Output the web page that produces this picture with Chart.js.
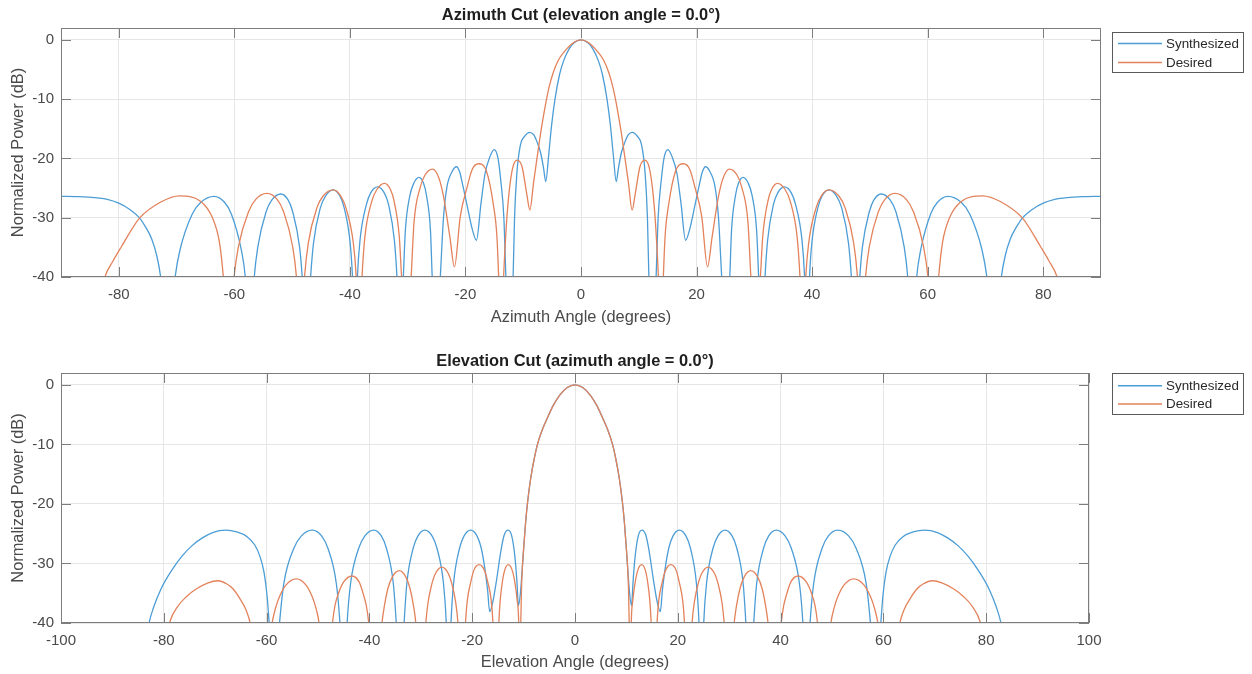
<!DOCTYPE html>
<html>
<head>
<meta charset="utf-8">
<title>Azimuth / Elevation Cuts</title>
<script src="https://cdn.jsdelivr.net/npm/chart.js@4.4.1/dist/chart.umd.min.js"></script>
<style>
  html, body { margin: 0; padding: 0; background: #fff; }
  .panel { position: absolute; left: 0; width: 1252px; height: 337px; }
  #azPanel { top: 0; }
  #elPanel { top: 337px; }
</style>
</head>
<body>
<div class="panel" id="azPanel"><canvas id="azChart" width="1252" height="337"></canvas></div>
<div class="panel" id="elPanel"><canvas id="elChart" width="1252" height="337"></canvas></div>
<script>
// Pattern cuts, [angle deg, power dB]. Points at -52 sit in the nulls below the axis.
const azSynthesized = [
  [-90,-26.4],[-87,-26.45],[-84.2,-26.6],[-82,-26.9],[-80.1,-27.5],[-78.1,-28.6],[-76.35,-30.1],[-75.4,-31.5],[-74.3,-33.6],[-73.4,-36.5],[-72.75,-40],[-71.5,-52],
  [-70.25,-40],[-69.4,-35.4],[-67.3,-29.4],[-65.8,-27.4],[-63.5,-26.4],[-61.7,-27.4],[-60.5,-29.4],[-58.8,-35.4],[-58.1,-40],[-57.3,-52],
  [-56.55,-40],[-55.95,-35],[-54.5,-29],[-53.5,-27],[-51.95,-26],[-50.7,-27],[-49.9,-29],[-48.7,-35],[-48.25,-40],[-47.5,-52],
  [-46.8,-40],[-46.3,-34.3],[-45.1,-28.3],[-44.2,-26.3],[-42.9,-25.3],[-41.75,-26.3],[-41,-28.3],[-39.95,-34.3],[-39.55,-40],[-39.1,-52],
  [-38.7,-40],[-38.25,-33.8],[-37.15,-27.8],[-36.4,-25.8],[-35.2,-24.8],[-34.05,-25.8],[-33.3,-27.8],[-32.3,-33.8],[-31.85,-40],[-31.3,-52],
  [-30.75,-40],[-30.4,-32.2],[-29.6,-26.2],[-28.95,-24.2],[-28.05,-23.2],[-27.25,-24.2],[-26.75,-26.2],[-26.05,-32.2],[-25.75,-40],[-25.05,-52],
  [-24.35,-40],[-23.8,-30],[-23.2,-24.8],[-22.3,-22.2],[-21.55,-21.4],[-21,-22.3],[-20.4,-24.8],[-19.7,-28],[-18.8,-32],[-18.1,-33.8],
  [-17.3,-27.5],[-16.6,-22.5],[-15.8,-19.8],[-15.05,-18.5],[-14.4,-19.8],[-13.9,-23.6],[-13.35,-30],[-13,-40],[-12.4,-52],
  [-11.75,-40],[-11.5,-30],[-11.1,-22.5],[-10.5,-17.8],[-9.7,-16.2],[-8.9,-15.6],[-8.2,-16],[-7.5,-17.5],[-7,-19],[-6.5,-21.5],[-6.1,-23.9],
  [-5.6,-19.5],[-5.1,-14.5],[-4.5,-10],[-3.7,-5.8],[-3,-3.5],[-2.1,-1.6],[-1.2,-0.5],[0,0],
  [1.2,-0.5],[2.1,-1.6],[3,-3.5],[3.7,-5.8],[4.5,-10],[5.1,-14.5],[5.6,-19.5],[6.1,-23.9],
  [6.5,-21.5],[7,-19],[7.5,-17.5],[8.2,-16],[8.9,-15.6],[9.7,-16.2],[10.5,-17.8],[11.1,-22.5],[11.5,-30],[11.75,-40],[12.4,-52],
  [13,-40],[13.35,-30],[13.9,-23.6],[14.4,-19.8],[15.05,-18.5],[15.8,-19.8],[16.6,-22.5],[17.3,-27.5],[18.1,-33.8],
  [18.8,-32],[19.7,-28],[20.4,-24.8],[21,-22.3],[21.55,-21.4],[22.3,-22.2],[23.2,-24.8],[23.8,-30],[24.35,-40],[25.05,-52],
  [25.75,-40],[26.05,-32.2],[26.75,-26.2],[27.25,-24.2],[28.05,-23.2],[28.95,-24.2],[29.6,-26.2],[30.4,-32.2],[30.75,-40],[31.3,-52],
  [31.85,-40],[32.3,-33.8],[33.3,-27.8],[34.05,-25.8],[35.2,-24.8],[36.4,-25.8],[37.15,-27.8],[38.25,-33.8],[38.7,-40],[39.1,-52],
  [39.55,-40],[39.95,-34.3],[41,-28.3],[41.75,-26.3],[42.9,-25.3],[44.2,-26.3],[45.1,-28.3],[46.3,-34.3],[46.8,-40],[47.5,-52],
  [48.25,-40],[48.7,-35],[49.9,-29],[50.7,-27],[51.95,-26],[53.5,-27],[54.5,-29],[55.95,-35],[56.55,-40],[57.3,-52],
  [58.1,-40],[58.8,-35.4],[60.5,-29.4],[61.7,-27.4],[63.5,-26.4],[65.8,-27.4],[67.3,-29.4],[69.4,-35.4],[70.25,-40],[71.5,-52],
  [72.75,-40],[73.4,-36.5],[74.3,-33.6],[75.4,-31.5],[76.35,-30.1],[78.1,-28.6],[80.1,-27.5],[82,-26.9],[84.2,-26.6],[87,-26.45],[90,-26.4]
];

const azDesired = [
  [-84,-47],[-82.4,-40],[-81,-37.3],[-79.55,-34.9],[-76.45,-30.1],[-72.65,-27.3],[-69.5,-26.3],[-65.75,-27.3],[-63.75,-30.1],[-62.55,-34.3],[-61.9,-40],[-61,-52],
  [-60.05,-40],[-59.3,-34.9],[-57.5,-28.9],[-56.3,-26.9],[-54.35,-25.9],[-52.6,-26.9],[-51.5,-28.9],[-49.9,-34.9],[-49.25,-40],[-48.55,-52],
  [-47.85,-40],[-47.2,-34.3],[-45.7,-28.3],[-44.6,-26.3],[-42.9,-25.3],[-41.6,-26.3],[-40.7,-28.3],[-39.4,-34.3],[-38.9,-40],[-38.4,-52],
  [-37.9,-40],[-37.4,-33.2],[-36.2,-27.2],[-35.3,-25.2],[-34,-24.2],[-33,-25.2],[-32.35,-27.2],[-31.45,-33.2],[-31.05,-40],[-30.2,-52],
  [-29.4,-40],[-28.9,-30.8],[-27.8,-24.8],[-27,-22.8],[-25.7,-21.8],[-24.6,-23.3],[-23.8,-26.4],[-22.7,-33.2],[-21.9,-38.3],
  [-20.9,-29.8],[-19.7,-24.8],[-18.85,-21.9],[-17.75,-20.9],[-16.35,-22.2],[-15.2,-27.6],[-14.55,-33.2],[-14.25,-40],[-13.8,-52],
  [-13.4,-40],[-12.9,-31],[-12.4,-25.3],[-11.8,-21.5],[-11.05,-20.3],[-10.2,-21.4],[-9.4,-25.9],[-8.85,-28.7],
  [-8.2,-24],[-7.5,-19.2],[-6.9,-15.2],[-6.2,-11.2],[-5.5,-7.9],[-4.8,-5.5],[-3.9,-3.4],[-2.8,-1.9],[-1.5,-0.6],[0,0],
  [1.5,-0.6],[2.8,-1.9],[3.9,-3.4],[4.8,-5.5],[5.5,-7.9],[6.2,-11.2],[6.9,-15.2],[7.5,-19.2],[8.2,-24],[8.85,-28.7],
  [9.4,-25.9],[10.2,-21.4],[11.05,-20.3],[11.8,-21.5],[12.4,-25.3],[12.9,-31],[13.4,-40],[13.8,-52],
  [14.25,-40],[14.55,-33.2],[15.2,-27.6],[16.35,-22.2],[17.75,-20.9],[18.85,-21.9],[19.7,-24.8],[20.9,-29.8],[21.9,-38.3],
  [22.7,-33.2],[23.8,-26.4],[24.6,-23.3],[25.7,-21.8],[27,-22.8],[27.8,-24.8],[28.9,-30.8],[29.4,-40],[30.2,-52],
  [31.05,-40],[31.45,-33.2],[32.35,-27.2],[33,-25.2],[34,-24.2],[35.3,-25.2],[36.2,-27.2],[37.4,-33.2],[37.9,-40],[38.4,-52],
  [38.9,-40],[39.4,-34.3],[40.7,-28.3],[41.6,-26.3],[42.9,-25.3],[44.6,-26.3],[45.7,-28.3],[47.2,-34.3],[47.85,-40],[48.55,-52],
  [49.25,-40],[49.9,-34.9],[51.5,-28.9],[52.6,-26.9],[54.35,-25.9],[56.3,-26.9],[57.5,-28.9],[59.3,-34.9],[60.05,-40],[61,-52],
  [61.9,-40],[62.55,-34.3],[63.75,-30.1],[65.75,-27.3],[69.5,-26.3],[72.65,-27.3],[76.45,-30.1],[79.55,-34.9],[81,-37.3],[82.4,-40],[84,-47]
];

const elSynthesized = [
  [-84,-46],[-82.87,-40],[-82,-37.4],[-80.5,-34.2],[-78.5,-31.2],[-76.5,-28.8],[-74.5,-27],[-72.5,-25.7],[-70.5,-24.8],[-68,-24.4],[-65.8,-24.7],[-63.8,-25.5],[-62.3,-26.9],[-61.3,-28.8],[-60.5,-31.5],[-59.9,-35.5],[-59.5,-40],[-58.5,-52],
  [-57.48,-40],[-56.65,-33.4],[-54.67,-27.4],[-53.27,-25.4],[-51.1,-24.4],[-49.27,-25.4],[-48.09,-27.4],[-46.43,-33.4],[-45.73,-40],[-45,-52],
  [-44.34,-40],[-43.67,-33.4],[-42.06,-27.4],[-40.91,-25.4],[-39.15,-24.4],[-37.66,-25.4],[-36.7,-27.4],[-35.34,-33.4],[-34.77,-40],[-34,-52],
  [-33.25,-40],[-32.72,-33.4],[-31.47,-27.4],[-30.58,-25.4],[-29.2,-24.4],[-27.79,-25.4],[-26.87,-27.4],[-25.58,-33.4],[-25.04,-40],[-24.6,-52],
  [-24.13,-40],[-23.63,-33.4],[-22.45,-27.4],[-21.6,-25.4],[-20.3,-24.4],[-19.05,-25.4],[-18.25,-27.4],[-17.6,-30.5],[-17,-34.5],[-16.6,-38.1],
  [-16,-36.5],[-15.3,-33],[-14.4,-27.8],[-13.8,-25.3],[-13.05,-24.4],[-12.3,-25.4],[-11.7,-28.8],[-11.3,-33],[-11,-37.1],
  [-10.6,-34.8],[-10.25,-30.8],[-9.95,-27],[-9.6,-23],[-9.2,-19.5],[-8.6,-15.6],[-8,-12.7],[-7.3,-10],[-6.3,-7.4],[-5.3,-5.4],[-4.2,-3.4],[-3,-1.75],[-1.5,-0.45],[0,0],
  [1.5,-0.45],[3,-1.75],[4.2,-3.4],[5.3,-5.4],[6.3,-7.4],[7.3,-10],[8,-12.7],[8.6,-15.6],[9.2,-19.5],[9.6,-23],[9.95,-27],[10.25,-30.8],[10.6,-34.8],
  [11,-37.1],[11.3,-33],[11.7,-28.8],[12.3,-25.4],[13.05,-24.4],[13.8,-25.3],[14.4,-27.8],[15.3,-33],[16,-36.5],[16.6,-38.1],
  [17,-34.5],[17.6,-30.5],[18.25,-27.4],[19.05,-25.4],[20.3,-24.4],[21.6,-25.4],[22.45,-27.4],[23.63,-33.4],[24.13,-40],[24.6,-52],
  [25.04,-40],[25.58,-33.4],[26.87,-27.4],[27.79,-25.4],[29.2,-24.4],[30.58,-25.4],[31.47,-27.4],[32.72,-33.4],[33.25,-40],[34,-52],
  [34.77,-40],[35.34,-33.4],[36.7,-27.4],[37.66,-25.4],[39.15,-24.4],[40.91,-25.4],[42.06,-27.4],[43.67,-33.4],[44.34,-40],[45,-52],
  [45.73,-40],[46.43,-33.4],[48.09,-27.4],[49.27,-25.4],[51.1,-24.4],[53.27,-25.4],[54.67,-27.4],[56.65,-33.4],[57.48,-40],[58.5,-52],
  [59.5,-40],[59.9,-35.5],[60.5,-31.5],[61.3,-28.8],[62.3,-26.9],[63.8,-25.5],[65.8,-24.7],[68,-24.4],[70.5,-24.8],[72.5,-25.7],[74.5,-27],[76.5,-28.8],[78.5,-31.2],[80.5,-34.2],[82,-37.4],[82.87,-40],[84,-46]
];

const elDesired = [
  [-80,-45],[-78.9,-40],[-77.2,-37.1],[-75.5,-35.5],[-73.7,-34.3],[-71.5,-33.3],[-69.5,-32.9],[-67.8,-33.4],[-66.6,-34.2],[-65.2,-35.9],[-64,-37.8],[-63.2,-40],[-61,-52],
  [-58.94,-40],[-58.3,-37.6],[-57.5,-35.6],[-56.2,-33.6],[-54.23,-32.6],[-52.37,-33.6],[-51.12,-35.6],[-50.37,-37.6],[-49.79,-40],[-48.5,-52],
  [-47.19,-40],[-46.7,-37.1],[-46.05,-35.1],[-45,-33.1],[-43.4,-32.1],[-42,-33.1],[-41.2,-35.1],[-40.6,-37.1],[-40.12,-40],[-38.8,-52],
  [-37.56,-40],[-37.1,-37.2],[-36.4,-34.2],[-35.5,-32.2],[-34.19,-31.2],[-32.95,-32.2],[-32.1,-34.2],[-31.4,-37.2],[-30.97,-40],[-30,-52],
  [-29.03,-40],[-28.6,-36.6],[-27.9,-33.6],[-27.1,-31.6],[-25.9,-30.6],[-24.7,-31.6],[-23.9,-33.6],[-23.2,-36.6],[-22.77,-40],[-22,-52],
  [-21.31,-40],[-20.95,-36.2],[-20.3,-33.2],[-19.7,-31.2],[-18.65,-30.2],[-17.6,-31.2],[-16.95,-33.2],[-16.3,-36.2],[-15.96,-40],[-15.4,-52],
  [-14.82,-40],[-14.55,-36.2],[-14.15,-33.2],[-13.7,-31.2],[-12.97,-30.2],[-12.2,-31.2],[-11.7,-33.2],[-11.25,-36.2],[-10.95,-40],[-10.75,-52],
  [-10.55,-40],[-10.4,-34],[-10.25,-30.8],[-9.95,-27],[-9.6,-23],[-9.2,-19.5],[-8.6,-15.6],[-8,-12.7],[-7.3,-10],[-6.3,-7.4],[-5.3,-5.4],[-4.2,-3.4],[-3,-1.75],[-1.5,-0.45],[0,0],
  [1.5,-0.45],[3,-1.75],[4.2,-3.4],[5.3,-5.4],[6.3,-7.4],[7.3,-10],[8,-12.7],[8.6,-15.6],[9.2,-19.5],[9.6,-23],[9.95,-27],[10.25,-30.8],[10.4,-34],[10.55,-40],[10.75,-52],
  [10.95,-40],[11.25,-36.2],[11.7,-33.2],[12.2,-31.2],[12.97,-30.2],[13.7,-31.2],[14.15,-33.2],[14.55,-36.2],[14.82,-40],[15.4,-52],
  [15.96,-40],[16.3,-36.2],[16.95,-33.2],[17.6,-31.2],[18.65,-30.2],[19.7,-31.2],[20.3,-33.2],[20.95,-36.2],[21.31,-40],[22,-52],
  [22.77,-40],[23.2,-36.6],[23.9,-33.6],[24.7,-31.6],[25.9,-30.6],[27.1,-31.6],[27.9,-33.6],[28.6,-36.6],[29.03,-40],[30,-52],
  [30.97,-40],[31.4,-37.2],[32.1,-34.2],[32.95,-32.2],[34.19,-31.2],[35.5,-32.2],[36.4,-34.2],[37.1,-37.2],[37.56,-40],[38.8,-52],
  [40.12,-40],[40.6,-37.1],[41.2,-35.1],[42,-33.1],[43.4,-32.1],[45,-33.1],[46.05,-35.1],[46.7,-37.1],[47.19,-40],[48.5,-52],
  [49.79,-40],[50.37,-37.6],[51.12,-35.6],[52.37,-33.6],[54.23,-32.6],[56.2,-33.6],[57.5,-35.6],[58.3,-37.6],[58.94,-40],[61,-52],
  [63.2,-40],[64,-37.8],[65.2,-35.9],[66.6,-34.2],[67.8,-33.4],[69.5,-32.9],[71.5,-33.3],[73.7,-34.3],[75.5,-35.5],[77.2,-37.1],[78.9,-40],[80,-45]
];

const azTicks = [-80, -60, -40, -20, 0, 20, 40, 60, 80];
const elTicks = [-100, -80, -60, -40, -20, 0, 20, 40, 60, 80, 100];
const powerTicks = [-40, -30, -20, -10, 0];
const seriesNames = ['Synthesized', 'Desired'];

const BLUE = '#4c9dd6';
const ORANGE = '#e3825b';
const FONT = "'Liberation Sans', Arial, Helvetica, sans-serif";
const AXIS_COLOR = '#7d7d7d';
const TEXT_COLOR = '#4a4a4a';

const toPoints = pairs => pairs.map(([x, y]) => ({ x, y }));

// box, inward tick marks, title and boxed legend
const framePlugin = {
  id: 'frame',
  afterDatasetsDraw(chart, args, opts) {
    const { ctx, chartArea: a, scales: { x, y } } = chart;
    const len = 10;
    ctx.save();
    ctx.strokeStyle = AXIS_COLOR;
    ctx.lineWidth = 1;
    ctx.beginPath();
    x.ticks.forEach(t => {
      const px = Math.round(x.getPixelForValue(t.value)) + 0.5;
      ctx.moveTo(px, a.top); ctx.lineTo(px, a.top + len);
      ctx.moveTo(px, a.bottom); ctx.lineTo(px, a.bottom - len);
    });
    y.ticks.forEach(t => {
      const py = Math.round(y.getPixelForValue(t.value)) + 0.5;
      ctx.moveTo(a.left, py); ctx.lineTo(a.left + len, py);
      ctx.moveTo(a.right, py); ctx.lineTo(a.right - len, py);
    });
    ctx.stroke();
    ctx.strokeRect(a.left + 0.5, a.top + 0.5, a.right - a.left - 1, a.bottom - a.top - 1);
    ctx.restore();
  },
  afterDraw(chart, args, opts) {
    const { ctx, chartArea: a } = chart;
    ctx.save();
    ctx.fillStyle = '#1e1e1e';
    ctx.font = 'bold 16.4px ' + FONT;
    ctx.textAlign = 'center';
    ctx.textBaseline = 'middle';
    ctx.fillText(opts.title, (a.left + a.right) / 2, opts.titleY);

    const L = opts.legend;
    ctx.fillStyle = '#fff';
    ctx.fillRect(L.x, L.y, L.w, L.h);
    ctx.strokeStyle = '#5a5a5a';
    ctx.lineWidth = 1;
    ctx.strokeRect(L.x + 0.5, L.y + 0.5, L.w - 1, L.h - 1);
    ctx.font = '13.4px ' + FONT;
    ctx.textAlign = 'left';
    chart.data.datasets.forEach((ds, i) => {
      const ly = L.rowY[i];
      ctx.strokeStyle = ds.borderColor;
      ctx.lineWidth = 1.6;
      ctx.beginPath();
      ctx.moveTo(L.x + 6, ly); ctx.lineTo(L.x + 50, ly);
      ctx.stroke();
      ctx.fillStyle = '#2a2a2a';
      ctx.fillText(ds.label, L.x + 54, ly + 0.5);
    });
    ctx.restore();
  }
};

function makeCut(canvasId, p) {
  return new Chart(document.getElementById(canvasId), {
    type: 'line',
    data: {
      datasets: [
        { label: seriesNames[0], data: toPoints(p.synth), borderColor: BLUE, order: 1 },
        { label: seriesNames[1], data: toPoints(p.desired), borderColor: ORANGE, order: 0 }
      ]
    },
    options: {
      responsive: false,
      animation: false,
      events: [],
      devicePixelRatio: 1,
      layout: { padding: { left: 0, top: p.top, right: p.right, bottom: 0 } },
      elements: {
        point: { radius: 0 },
        line: { borderWidth: 1.3, fill: false, cubicInterpolationMode: 'monotone' }
      },
      plugins: {
        legend: { display: false },
        tooltip: { enabled: false },
        frame: { title: p.title, titleY: p.titleY, legend: p.legend }
      },
      scales: {
        x: {
          type: 'linear',
          min: p.xMin,
          max: p.xMax,
          afterFit: s => { s.height = p.xHeight; },
          afterBuildTicks: s => { s.ticks = p.xTicks.map(value => ({ value })); },
          grid: { color: '#e6e6e6', drawTicks: false },
          border: { display: false },
          ticks: { color: TEXT_COLOR, font: { family: FONT, size: 15 }, padding: 9, maxRotation: 0 },
          title: { display: true, text: p.xLabel, color: TEXT_COLOR, font: { family: FONT, size: 16.4 }, padding: { top: 0, bottom: p.xTitlePad } }
        },
        y: {
          min: -40,
          max: 2,
          afterFit: s => { s.width = 61; },
          afterBuildTicks: s => { s.ticks = powerTicks.map(value => ({ value })); },
          grid: { color: '#e6e6e6', drawTicks: false },
          border: { display: false },
          ticks: { color: TEXT_COLOR, font: { family: FONT, size: 15 }, padding: 7 },
          title: { display: true, text: 'Normalized Power (dB)', color: TEXT_COLOR, font: { family: FONT, size: 16.4 }, padding: { top: 8.5, bottom: 0 } }
        }
      }
    },
    plugins: [framePlugin]
  });
}

makeCut('azChart', {
  synth: azSynthesized, desired: azDesired,
  xMin: -90, xMax: 90, xTicks: azTicks,
  top: 28, right: 151, xHeight: 60, xTitlePad: 9.5,
  xLabel: 'Azimuth Angle (degrees)',
  title: 'Azimuth Cut (elevation angle = 0.0\u00b0)', titleY: 15,
  legend: { x: 1112, y: 32, w: 132, h: 41, rowY: [43.5, 62.5] }
});

makeCut('elChart', {
  synth: elSynthesized, desired: elDesired,
  xMin: -100, xMax: 100, xTicks: elTicks,
  top: 36, right: 163, xHeight: 51, xTitlePad: 1.5,
  xLabel: 'Elevation Angle (degrees)',
  title: 'Elevation Cut (azimuth angle = 0.0\u00b0)', titleY: 24,
  legend: { x: 1112, y: 36, w: 132, h: 42, rowY: [48.7, 67] }
});
</script>
</body>
</html>
